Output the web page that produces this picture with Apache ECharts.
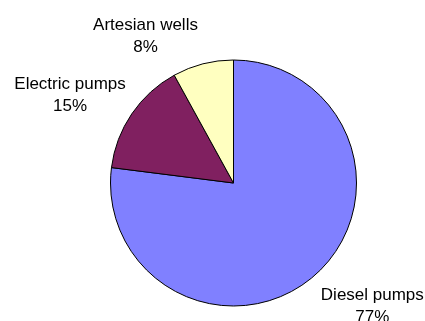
<!DOCTYPE html>
<html>
<head>
<meta charset="utf-8">
<script src="https://cdn.jsdelivr.net/npm/echarts@6/dist/echarts.min.js"></script>
<style>
  html, body { margin: 0; padding: 0; background: #fff; }
  #chart { width: 425px; height: 321px; }
</style>
</head>
<body>
<div id="chart"></div>
<script>
const categories = ['Diesel pumps', 'Electric pumps', 'Artesian wells'];
const values = [77, 15, 8];
const colors = ['#8080FF', '#802060', '#FFFFC0'];

const cx = 233.5, cy = 183, R = 123;
const total = values.reduce((a, b) => a + b, 0);
// small nudges so labels sit where the original put them
const nudge = [[1, 4], [-1, 8], [0, -1]];

const chart = echarts.init(document.getElementById('chart'));
chart.setOption({
  animation: false,
  series: [{
    type: 'pie',
    center: [cx, cy],
    radius: R,
    startAngle: 90,
    clockwise: true,
    avoidLabelOverlap: false,
    data: categories.map((name, i) => ({ name, value: values[i], itemStyle: { color: colors[i] } })),
    itemStyle: { borderColor: '#000', borderWidth: 1 },
    emphasis: { disabled: true },
    label: {
      position: 'outside',
      formatter: p => p.name + '\n' + p.value + '%',
      fontFamily: 'Liberation Sans',
      fontSize: 17,
      lineHeight: 22,
      color: '#000'
    },
    labelLine: { show: false, length: 0, length2: 0 },
    labelLayout: p => {
      // put the label's nearest corner just outside the slice's middle
      let before = 0;
      for (let i = 0; i < p.dataIndex; i++) before += values[i];
      const mid = (before + values[p.dataIndex] / 2) / total * Math.PI * 2;
      const dx = Math.sin(mid), dy = -Math.cos(mid);
      const px = cx + R * dx, py = cy + R * dy;
      const w = p.labelRect.width, h = p.labelRect.height, g = 5;
      const n = nudge[p.dataIndex];
      return {
        x: px + Math.sign(dx) * (w / 2 + g) + n[0],
        y: py + Math.sign(dy) * (h / 2 + g) + n[1],
        align: 'center',
        verticalAlign: 'middle'
      };
    }
  }]
});
</script>
</body>
</html>
